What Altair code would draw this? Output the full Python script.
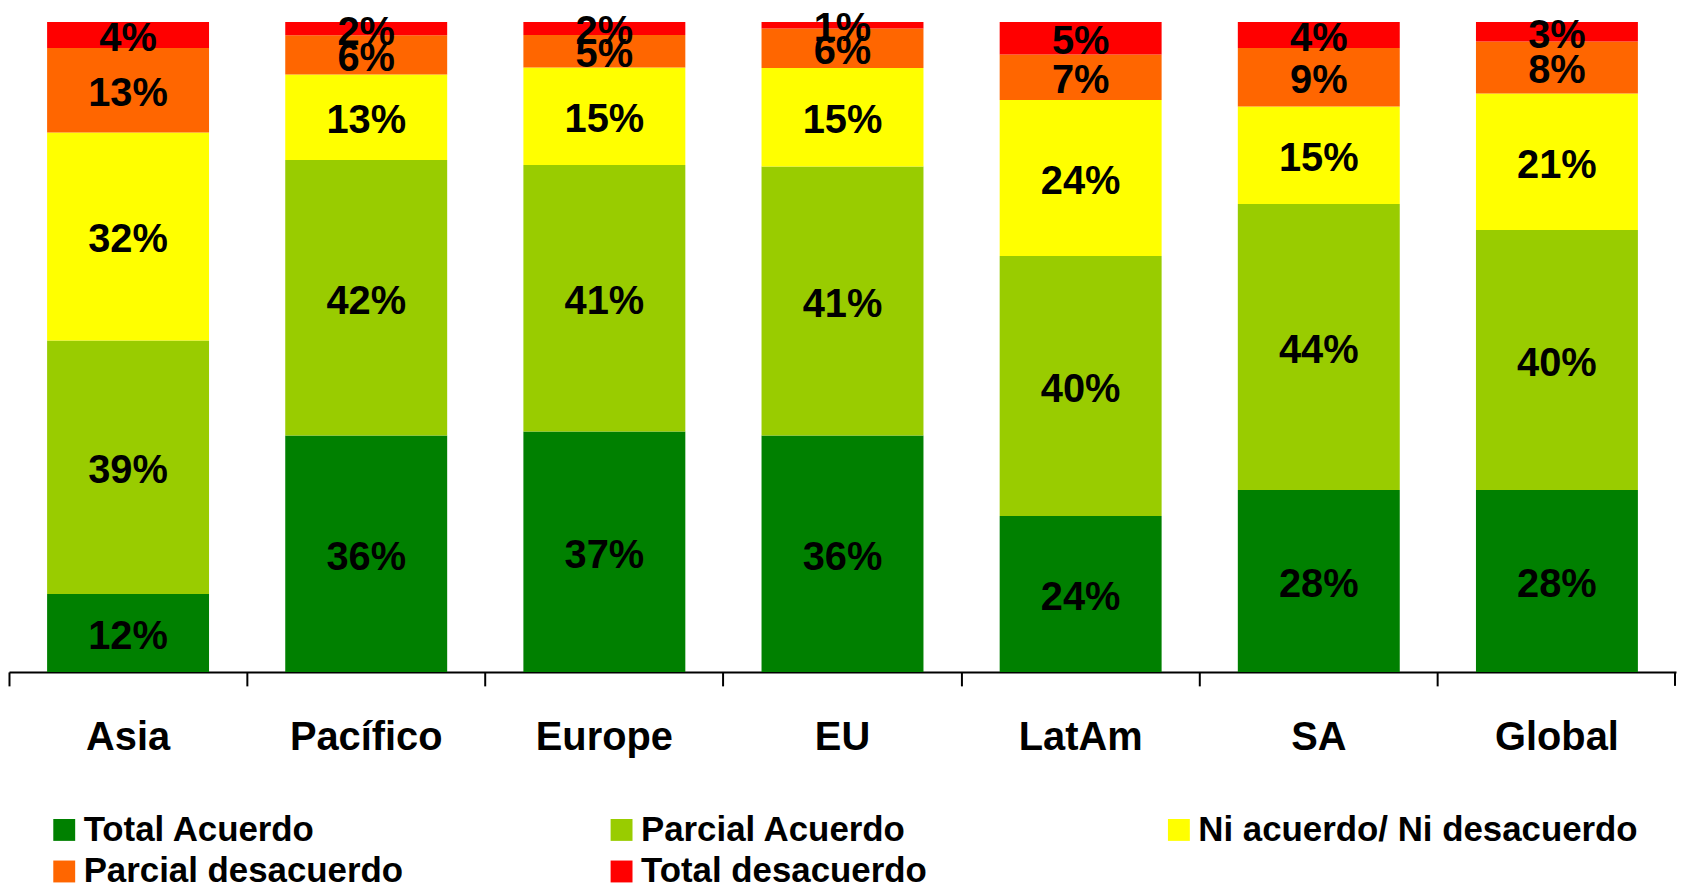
import altair as alt
import pandas as pd

categories = ["Asia", "Pacífico", "Europe", "EU", "LatAm", "SA", "Global"]
series = ["Total Acuerdo", "Parcial Acuerdo", "Ni acuerdo/ Ni desacuerdo",
          "Parcial desacuerdo", "Total desacuerdo"]
colors = ["#008000", "#99CC00", "#FFFF00", "#FF6600", "#FF0000"]

total_acuerdo = [12, 36, 37, 36, 24, 28, 28]
parcial_acuerdo = [39, 42, 41, 41, 40, 44, 40]
ni_acuerdo = [32, 13, 15, 15, 24, 15, 21]
parcial_desacuerdo = [13, 6, 5, 6, 7, 9, 8]
total_desacuerdo = [4, 2, 2, 1, 5, 4, 3]

values_by_series = [total_acuerdo, parcial_acuerdo, ni_acuerdo,
                    parcial_desacuerdo, total_desacuerdo]

rows = []
for si, (s, vals) in enumerate(zip(series, values_by_series)):
    for c, v in zip(categories, vals):
        rows.append({"cat": c, "series": s, "value": v, "order": si})
df = pd.DataFrame(rows)

FONT = "Liberation Sans"
W, H = 1675, 653
P_IN, P_OUT = 0.32, 0.16

base = alt.Chart(df).transform_stack(
    stack="value",
    groupby=["cat"],
    as_=["y0", "y1"],
    offset="normalize",
    sort=[alt.SortField("order", order="ascending")],
).transform_calculate(
    mid="(datum.y0 + datum.y1) / 2",
    label="datum.value + '%'",
)

xenc = alt.X(
    "cat:N",
    sort=categories,
    scale=alt.Scale(paddingInner=P_IN, paddingOuter=P_OUT),
    axis=alt.Axis(
        title=None,
        labelAngle=0,
        labelFont=FONT,
        labelFontSize=40,
        labelFontWeight="bold",
        labelColor="black",
        labelPadding=32,
        domainColor="black",
        domainWidth=2,
        tickColor="black",
        tickWidth=2,
        tickSize=14,
        bandPosition=-(P_IN / 2) / (1 - P_IN),
        grid=False,
    ),
)

yscale = alt.Scale(domain=[0, 1], nice=False)

bars = base.mark_bar().encode(
    x=xenc,
    y=alt.Y("y0:Q", scale=yscale, axis=None),
    y2="y1:Q",
    color=alt.Color(
        "series:N",
        scale=alt.Scale(domain=series, range=colors),
        legend=alt.Legend(
            title=None,
            orient="none",
            legendX=38,
            legendY=794,
            direction="horizontal",
            columns=3,
            symbolType="square",
            symbolSize=484,
            symbolStrokeWidth=0,
            labelFont=FONT,
            labelFontSize=35,
            labelFontWeight="bold",
            labelColor="black",
            labelLimit=800,
            labelOffset=2,
            columnPadding=81,
            rowPadding=6,
            gridAlign="all",
            padding=0,
        ),
    ),
)

texts = base.mark_text(
    font=FONT, fontSize=40, fontWeight="bold", color="black",
    baseline="middle", align="center", dy=4,
).encode(
    x=alt.X("cat:N", sort=categories),
    y=alt.Y("mid:Q", scale=yscale),
    text="label:N",
)

end_tick = alt.Chart(alt.Data(values=[{"a": 1}])).mark_rule(
    color="black", strokeWidth=2
).encode(
    x=alt.value(W - 1),
    y=alt.value(H),
    y2=alt.value(H + 14),
)

chart = alt.layer(bars, texts, end_tick).properties(
    width=W,
    height=H,
    autosize=alt.AutoSizeParams(type="none"),
    padding={"left": 1, "top": 12, "right": 1, "bottom": 220},
).configure_view(stroke=None)

chart.save("out.html", embed_options={"renderer": "svg", "actions": False})
